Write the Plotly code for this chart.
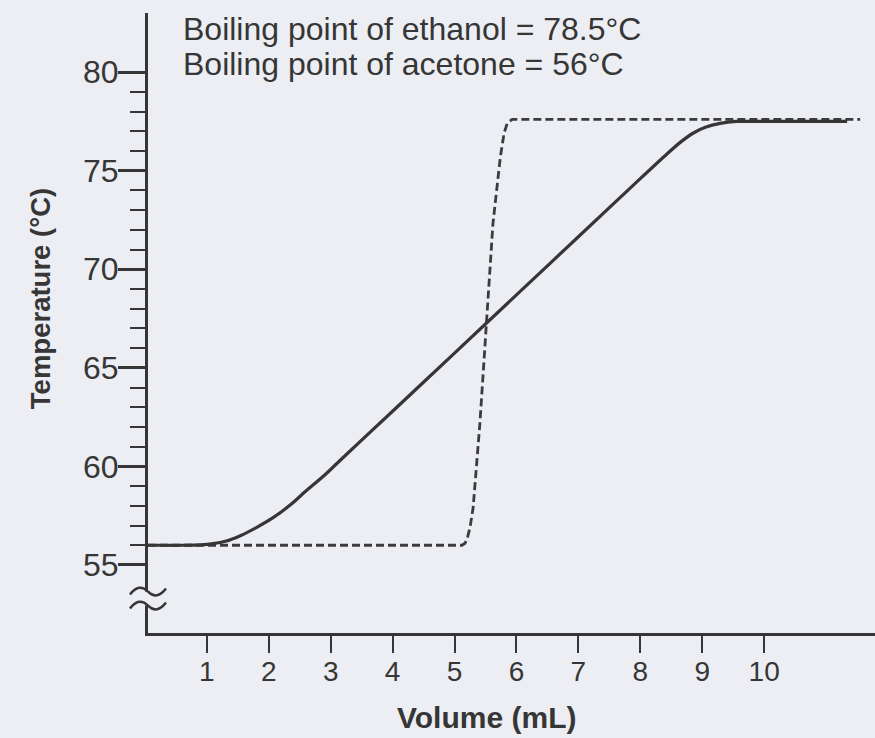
import plotly.graph_objects as go

# ---- data ----
solid_vol = [0.05, 0.3, 0.6, 0.9, 1.1, 1.3, 1.55, 1.8, 2.07, 2.35, 2.6, 2.9, 3.15, 4.0, 5.0, 6.0,
             7.0, 8.0, 8.43, 8.65, 8.85, 9.05, 9.29, 9.55, 9.9, 10.5, 11.0, 11.34]
solid_temp = [56.0, 56.0, 56.0, 56.02, 56.08, 56.2, 56.5, 56.9, 57.4, 58.05, 58.75, 59.55, 60.3,
              62.8, 65.75, 68.7, 71.65, 74.6, 75.85, 76.45, 76.9, 77.2, 77.4, 77.5, 77.5, 77.5,
              77.5, 77.5]

dashed_vol = [0.05, 5.12, 5.17, 5.21, 5.25, 5.30, 5.41, 5.52, 5.62, 5.74, 5.80, 5.85, 5.93, 11.55]
dashed_temp = [56.0, 56.0, 56.1, 56.4, 56.9, 57.9, 62.2, 67.4, 72.3, 75.7, 76.9, 77.4, 77.6, 77.6]

x_ticks = [1, 2, 3, 4, 5, 6, 7, 8, 9, 10]
y_major = [55, 60, 65, 70, 75, 80]
y_minor = [t for t in range(56, 80) if t % 5 != 0]

note_lines = ["Boiling point of ethanol = 78.5°C", "Boiling point of acetone = 56°C"]
x_title = "Volume (mL)"
y_title = "Temperature (°C)"

BG = "#eceef4"
INK = "#363636"
FONT = "Liberation Sans, Arial, sans-serif"

fig = go.Figure()
fig.add_trace(go.Scatter(x=dashed_vol, y=dashed_temp, mode="lines",
                         line=dict(color="#3c3c3c", width=2.8, dash="8px,4px", shape="linear"),
                         showlegend=False, hoverinfo="skip"))
fig.add_trace(go.Scatter(x=solid_vol, y=solid_temp, mode="lines",
                         line=dict(color=INK, width=3.2, shape="spline", smoothing=0.6),
                         showlegend=False, hoverinfo="skip"))

fig.update_layout(
    width=875, height=738,
    margin=dict(l=148, r=0, t=13, b=105),
    paper_bgcolor=BG, plot_bgcolor=BG,
    font=dict(family=FONT, color=INK),
    showlegend=False,
)

fig.update_xaxes(
    range=[0.05, 11.79], showgrid=False, zeroline=False, automargin=False,
    showline=True, linecolor=INK, linewidth=3,
    tickmode="array", tickvals=x_ticks, ticktext=[str(v) for v in x_ticks],
    ticks="outside", ticklen=17, tickwidth=2, tickcolor=INK,
    tickfont=dict(size=28, color=INK, family=FONT), ticklabelstandoff=-6,
)
fig.update_yaxes(
    range=[51.55, 83.0], showgrid=False, zeroline=False, automargin=False,
    showline=True, linecolor=INK, linewidth=3,
    tickmode="array", tickvals=y_major, ticktext=[str(v) for v in y_major],
    ticks="outside", ticklen=27, tickwidth=3, tickcolor=INK,
    tickfont=dict(size=32, color=INK, family=FONT), ticklabelstandoff=-7,
    minor=dict(tickmode="array", tickvals=y_minor, ticks="outside", ticklen=15,
               tickwidth=2, tickcolor=INK),
)

# axis break on the y axis (decoration, paper-anchored so it is not clipped)
BREAK_Y = 0.0556
fig.add_shape(type="rect", xref="paper", yref="paper", xsizemode="pixel", ysizemode="pixel",
              xanchor=0, yanchor=BREAK_Y, x0=-5, x1=5, y0=-7, y1=7,
              fillcolor=BG, line=dict(width=0), layer="above")
for dy in (7, -7):
    fig.add_shape(type="path", xref="paper", yref="paper", xsizemode="pixel", ysizemode="pixel",
                  xanchor=0, yanchor=BREAK_Y,
                  path=f"M -18,{dy-3} Q -9,{dy+9} 0,{dy} T 18,{dy+3}",
                  line=dict(color=INK, width=2.5), layer="above")

# notes
for i, txt in enumerate(note_lines):
    fig.add_annotation(text=txt, xref="paper", yref="paper", x=0.046, y=[0.975, 0.918][i],
                       xanchor="left", yanchor="middle", showarrow=False,
                       font=dict(size=32, color=INK, family=FONT))

fig.add_annotation(text=x_title, xref="paper", yref="paper", x=0.466, y=-0.137,
                   xanchor="center", yanchor="middle", showarrow=False,
                   font=dict(size=30, color=INK, family=FONT, weight="bold"))
fig.add_annotation(text=y_title, xref="paper", yref="paper", x=-0.1486, y=0.540,
                   xanchor="center", yanchor="middle", showarrow=False, textangle=-90,
                   font=dict(size=27.5, color=INK, family=FONT, weight="bold"))

fig.write_html("out.html", config={"displayModeBar": False},
               post_script="document.body.style.margin='0';document.body.style.overflow='hidden';")
